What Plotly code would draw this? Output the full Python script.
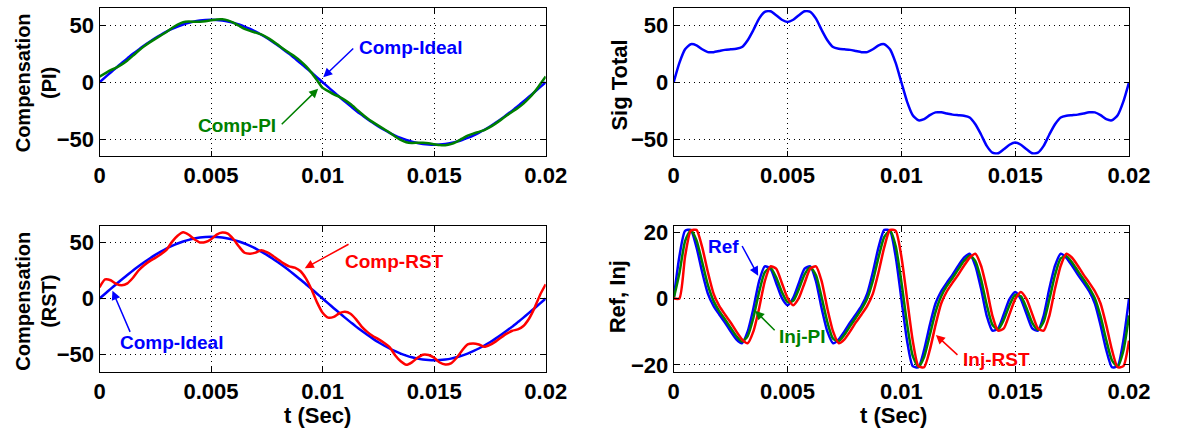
import numpy as np
import plotly.graph_objects as go

# sample times over one 50 Hz period (s)
t = np.linspace(0, 0.02, 81)

sig_total = [0, 17, 29, 33.5, 32.5, 29, 26.5, 26.5, 27.5, 28.5, 29, 29.5, 31, 37, 46, 56, 62, 62.5, 59, 55,
             53, 55, 59, 62.5, 62, 56, 46, 37, 31, 29.5, 29, 28.5, 27.5, 26.5, 26.5, 29, 32.5, 33.5, 29, 17,
             0, -17, -29, -33.5, -32.5, -29, -26.5, -26.5, -27.5, -28.5, -29, -29.5, -31, -37, -46, -56, -62, -62.5, -59, -55,
             -53, -55, -59, -62.5, -62, -56, -46, -37, -31, -29.5, -29, -28.5, -27.5, -26.5, -26.5, -29, -32.5, -33.5, -29, -17,
             0]

comp_ideal = [0, 4.3, 8.6, 12.8, 17.0, 21.0, 25.0, 28.7, 32.3, 35.7, 38.9, 41.8, 44.5, 46.9, 49.0, 50.8, 52.3, 53.5, 54.3, 54.8,
              55.0, 54.8, 54.3, 53.5, 52.3, 50.8, 49.0, 46.9, 44.5, 41.8, 38.9, 35.7, 32.3, 28.7, 25.0, 21.0, 17.0, 12.8, 8.6, 4.3,
              0, -4.3, -8.6, -12.8, -17.0, -21.0, -25.0, -28.7, -32.3, -35.7, -38.9, -41.8, -44.5, -46.9, -49.0, -50.8, -52.3, -53.5, -54.3, -54.8,
              -55.0, -54.8, -54.3, -53.5, -52.3, -50.8, -49.0, -46.9, -44.5, -41.8, -38.9, -35.7, -32.3, -28.7, -25.0, -21.0, -17.0, -12.8, -8.6, -4.3,
              0]

comp_pi = [5, 7.8, 10.6, 12.8, 15.7, 19.2, 23.4, 27.7, 31.7, 35.1, 38.2, 41.2, 44.2, 47.7, 50.7, 52.8, 53.4, 53.3, 53.3, 53.7,
           54.5, 55.3, 55.4, 54.5, 52.5, 49.7, 47, 45.2, 43.7, 42.1, 39.5, 36.4, 32.9, 29.3, 25.9, 22.6, 18.8, 14.1, 8.5, 1.8,
           -5, -7.8, -10.6, -12.8, -15.7, -19.2, -23.4, -27.7, -31.7, -35.1, -38.2, -41.2, -44.2, -47.7, -50.7, -52.8, -53.4, -53.3, -53.3, -53.7,
           -54.5, -55.3, -55.4, -54.5, -52.5, -49.7, -47, -45.2, -43.7, -42.1, -39.5, -36.4, -32.9, -29.3, -25.9, -22.6, -18.8, -14.1, -8.5, -1.8,
           5]

comp_rst = [10, 17, 16.3, 13.1, 11.8, 13.5, 18.5, 25, 29.7, 33.3, 36.2, 39.4, 43.3, 50.5, 55.9, 59, 56.8, 52.8, 50, 50.3,
            52.8, 57, 58.8, 57.8, 53, 46.3, 40.8, 40, 40.9, 43, 41.3, 38.4, 34.7, 31.3, 28.7, 27.5, 24.5, 18, 8.3, -3.4,
            -12.7, -17, -16.3, -13.1, -11.8, -13.5, -18.5, -25, -29.7, -33.3, -36.2, -39.4, -43.3, -50.5, -55.9, -59, -56.8, -52.8, -50, -50.3,
            -52.8, -57, -58.8, -57.8, -53, -46.3, -40.8, -40, -40.9, -43, -41.3, -38.4, -34.7, -31.3, -28.7, -27.5, -24.5, -18, -8.3, 3.4,
            12.7]

ref = [0, 12.7, 20.4, 20.7, 15.5, 8, 1.5, -2.2, -4.8, -7.2, -9.9, -12.3, -13.5, -9.9, -3, 5.2, 9.7, 9, 4.7, 0.2,
       -2, 0.2, 4.7, 9, 9.7, 5.2, -3, -9.9, -13.5, -12.3, -9.9, -7.2, -4.8, -2.2, 1.5, 8, 15.5, 20.7, 20.4, 12.7,
       0, -12.7, -20.4, -20.7, -15.5, -8, -1.5, 2.2, 4.8, 7.2, 9.9, 12.3, 13.5, 9.9, 3, -5.2, -9.7, -9, -4.7, -0.2,
       2, -0.2, -4.7, -9, -9.7, -5.2, 3, 9.9, 13.5, 12.3, 9.9, 7.2, 4.8, 2.2, -1.5, -8, -15.5, -20.7, -20.4, -12.7,
       0]

inj_pi = [0, 7.6, 17.3, 20.6, 17.6, 11, 4.1, -0.7, -3.8, -6.2, -8.8, -11.3, -13.0, -11.3, -5.8, 1.9, 7.9, 9.3, 6.4, 2.0,
          -1.1, -0.7, 2.9, 7.3, 9.4, 7.0, 0.3, -7.1, -12.1, -12.8, -10.9, -8.3, -5.8, -3.2, 0.0, 5.4, 12.5, 18.6, 20.5, 15.8,
          5.1, -7.6, -17.3, -20.6, -17.6, -11, -4.1, 0.7, 3.8, 6.2, 8.8, 11.3, 13.0, 11.3, 5.8, -1.9, -7.9, -9.3, -6.4, -2.0,
          1.1, 0.7, -2.9, -7.3, -9.4, -7.0, -0.3, 7.1, 12.1, 12.8, 10.9, 8.3, 5.8, 3.2, 0.0, -5.4, -12.5, -18.6, -20.5, -15.8,
          -5.1]

inj_rst = [0, 0, 12.7, 20.4, 20.7, 15.5, 8, 1.5, -2.2, -4.8, -7.2, -9.9, -12.3, -13.5, -9.9, -3, 5.2, 9.7, 9, 4.7,
           0.2, -2, 0.2, 4.7, 9, 9.7, 5.2, -3, -9.9, -13.5, -12.3, -9.9, -7.2, -4.8, -2.2, 1.5, 8, 15.5, 20.7, 20.4,
           12.7, 0, -12.7, -20.4, -20.7, -15.5, -8, -1.5, 2.2, 4.8, 7.2, 9.9, 12.3, 13.5, 9.9, 3, -5.2, -9.7, -9, -4.7,
           -0.2, 2, -0.2, -4.7, -9, -9.7, -5.2, 3, 9.9, 13.5, 12.3, 9.9, 7.2, 4.8, 2.2, -1.5, -8, -15.5, -20.7, -20.4,
           -12.7]

x_ticks = [0, 0.005, 0.01, 0.015, 0.02]
x_tick_text = ["0", "0.005", "0.01", "0.015", "0.02"]

BLUE, GREEN, RED = "#0000ff", "#008000", "#ff0000"
FONT = "Liberation Sans, Arial, sans-serif"

fig = go.Figure()


def add_line(y, color, xa, ya):
    fig.add_trace(go.Scatter(x=t, y=y, mode="lines", xaxis=xa, yaxis=ya,
                             line=dict(color=color, width=2.5, shape="spline", smoothing=0.6),
                             showlegend=False, hoverinfo="skip"))


add_line(comp_ideal, BLUE, "x", "y")
add_line(comp_pi, GREEN, "x", "y")
add_line(sig_total, BLUE, "x2", "y2")
add_line(comp_ideal, BLUE, "x3", "y3")
add_line(comp_rst, RED, "x3", "y3")
add_line(ref, BLUE, "x4", "y4")
add_line(inj_pi, GREEN, "x4", "y4")
add_line(inj_rst, RED, "x4", "y4")

tick_font = dict(family=FONT, size=22, color="black", weight="bold")
common = dict(showline=True, linecolor="black", linewidth=1, mirror="ticks",
              ticks="inside", ticklen=5, tickcolor="black", showgrid=True,
              gridcolor="black", gridwidth=1, griddash="1px,4px", zeroline=False,
              tickfont=tick_font)

left_dom = [0.0811, 0.4681]
right_dom = [0.5791, 0.9740]
top_dom = [0.6445, 0.992]
bot_dom = [0.1376, 0.4810]

xcommon = dict(common, range=[0, 0.02], tickvals=x_ticks, ticktext=x_tick_text)
fig.update_layout(
    xaxis=dict(xcommon, domain=left_dom, anchor="y"),
    yaxis=dict(common, domain=top_dom, anchor="x", range=[-65, 65], tickvals=[-50, 0, 50]),
    xaxis2=dict(xcommon, domain=right_dom, anchor="y2"),
    yaxis2=dict(common, domain=top_dom, anchor="x2", range=[-65, 65], tickvals=[-50, 0, 50]),
    xaxis3=dict(xcommon, domain=left_dom, anchor="y3"),
    yaxis3=dict(common, domain=bot_dom, anchor="x3", range=[-65, 65], tickvals=[-50, 0, 50]),
    xaxis4=dict(xcommon, domain=right_dom, anchor="y4"),
    yaxis4=dict(common, domain=bot_dom, anchor="x4", range=[-22, 22], tickvals=[-20, 0, 20]),
    width=1180, height=436, margin=dict(l=0, r=0, t=0, b=0),
    paper_bgcolor="white", plot_bgcolor="white",
)

ann = []


def label(text, x, y, size, angle=0, yanchor="middle"):
    ann.append(dict(text=text, x=x, y=y, xref="paper", yref="paper", showarrow=False,
                    textangle=angle, font=dict(family=FONT, size=size, color="black", weight="bold"),
                    xanchor="center", yanchor=yanchor))


label("Compensation<br>(PI)", 0.0263, 0.8165, 20, -90)
label("Sig Total", 0.5325, 0.8126, 22, -90)
label("Compensation<br>(RST)", 0.0263, 0.3028, 20, -90)
label("Ref, Inj", 0.5307, 0.3142, 22, -90)
label("t (Sec)", 0.2703, 0.0, 22, yanchor="bottom")
label("t (Sec)", 0.7695, 0.0, 22, yanchor="bottom")


def callout(text, color, xa, ya, head, tail, tpos, anchor):
    ann.append(dict(text="", x=head[0], y=head[1], ax=tail[0], ay=tail[1],
                    xref=xa, yref=ya, axref=xa, ayref=ya, showarrow=True,
                    arrowhead=2, arrowsize=1.2, arrowwidth=1.5, arrowcolor=color))
    ann.append(dict(text=text, x=tpos[0], y=tpos[1], xref=xa, yref=ya, showarrow=False,
                    xanchor=anchor, yanchor="middle",
                    font=dict(family=FONT, size=19, color=color, weight="bold")))


callout("Comp-Ideal", BLUE, "x", "y", (0.01003, 4.5), (0.01144, 30.9), (0.01152, 30.9), "left")
callout("Comp-PI", GREEN, "x", "y", (0.0098, -5.7), (0.0081, -38.3), (0.00802, -38.3), "right")
callout("Comp-RST", RED, "x3", "y3", (0.0092, 27), (0.01123, 49.1), (0.0109, 32.8), "left")
callout("Comp-Ideal", BLUE, "x3", "y3", (0.00058, 6.9), (0.0014, -31), (0.00085, -39.1), "left")
callout("Ref", BLUE, "x4", "y4", (0.00371, 6.9), (0.00297, 16.3), (0.00294, 15.8), "right")
callout("Inj-PI", GREEN, "x4", "y4", (0.00358, -3.7), (0.0045, -10), (0.00455, -11.5), "left")
callout("Inj-RST", RED, "x4", "y4", (0.01152, -11), (0.01253, -17.4), (0.01261, -18.5), "left")

fig.update_layout(annotations=ann)
fig.write_html("out.html")
